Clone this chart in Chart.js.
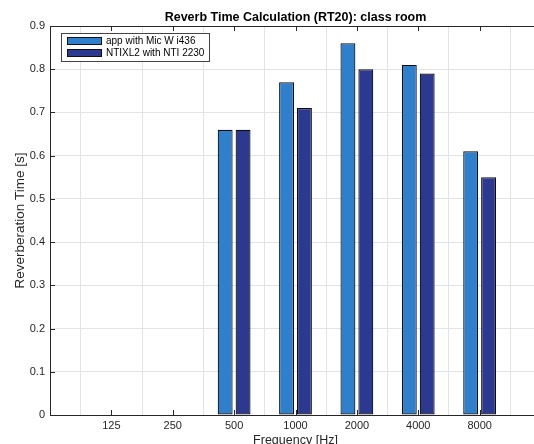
<!DOCTYPE html>
<html>
<head>
<meta charset="utf-8">
<script src="https://cdn.jsdelivr.net/npm/chart.js@4"></script>
<style>
  html, body { margin: 0; padding: 0; background: #fff; }
  #wrap { width: 534px; height: 444px; overflow: hidden; position: relative; }
  canvas { display: block; }
</style>
</head>
<body>
<div id="wrap"><canvas id="rt" width="545" height="452"></canvas></div>
<script>
  // octave bands (Hz)
  const freqs = ['125', '250', '500', '1000', '2000', '4000', '8000'];
  // RT20 in seconds
  const appMic = [0, 0, 0.66, 0.77, 0.86, 0.81, 0.61];
  const ntiXL2 = [0, 0, 0.66, 0.71, 0.80, 0.79, 0.55];
  const yTicks = [0, 0.1, 0.2, 0.3, 0.4, 0.5, 0.6, 0.7, 0.8, 0.9];

  const seriesNames = ['app with Mic W i436', 'NTIXL2 with NTI 2230'];
  const seriesColors = ['#2e7fcc', '#2b3990'];

  // empty slot at each end so the bands sit one step in from the edges
  const labels = [''].concat(freqs, ['']);
  const pad = arr => [null].concat(arr, [null]);

  const FONT = '"Liberation Sans", Arial, Helvetica, sans-serif';
  Chart.defaults.font.family = FONT;
  Chart.defaults.color = '#262626';

  // matlab style box: top edge line + inward tick marks, and the legend inside the axes
  const matlabBox = {
    id: 'matlabBox',
    afterDraw(chart) {
      const ctx = chart.ctx;
      const a = chart.chartArea;
      const xs = chart.scales.x, ys = chart.scales.y;
      ctx.save();
      ctx.strokeStyle = '#262626';
      ctx.lineWidth = 1;
      ctx.beginPath();
      ctx.moveTo(a.left, a.top + 0.5);
      ctx.lineTo(a.right, a.top + 0.5);
      for (let i = 1; i <= freqs.length; i++) {
        const px = Math.round(xs.getPixelForValue(i)) + 0.5;
        ctx.moveTo(px, a.bottom);
        ctx.lineTo(px, a.bottom - 5);
        ctx.moveTo(px, a.top);
        ctx.lineTo(px, a.top + 5);
      }
      yTicks.forEach(v => {
        const py = Math.round(ys.getPixelForValue(v)) + 0.5;
        ctx.moveTo(a.left, py);
        ctx.lineTo(a.left + 5, py);
      });
      ctx.stroke();

      // legend
      const lx = 61, ly = 33, lw = 148, lh = 28;
      ctx.fillStyle = '#fff';
      ctx.fillRect(lx, ly, lw, lh);
      ctx.strokeStyle = '#444';
      ctx.strokeRect(lx + 0.5, ly + 0.5, lw, lh);
      ctx.font = '10px ' + FONT;
      ctx.textBaseline = 'middle';
      chart.data.datasets.forEach((ds, i) => {
        const sy = ly + 4 + i * 12;
        ctx.fillStyle = ds.backgroundColor;
        ctx.fillRect(lx + 6, sy, 35, 8);
        ctx.strokeStyle = '#111';
        ctx.strokeRect(lx + 6.5, sy + 0.5, 34, 7);
        ctx.fillStyle = '#000';
        ctx.fillText(ds.label, lx + 45, sy + 4.5);
      });
      ctx.restore();
    }
  };

  const datasets = [appMic, ntiXL2].map((vals, i) => ({
    label: seriesNames[i],
    data: pad(vals),
    backgroundColor: seriesColors[i],
    borderColor: '#0d0d0d',
    borderWidth: 1.2,
    borderSkipped: false,
    categoryPercentage: 0.583,
    barPercentage: 0.833
  }));

  const config = {
    type: 'bar',
    data: { labels: labels, datasets: datasets },
    options: {
      responsive: false,
      animation: false,
      layout: { padding: { left: 0, right: 1, top: 0, bottom: 0 } },
      plugins: {
        legend: { display: false },
        tooltip: { enabled: false },
        title: {
          display: true,
          fullSize: false,
          text: 'Reverb Time Calculation (RT20): class room',
          color: '#000',
          font: { size: 12.5, weight: 'bold', lineHeight: 1.2 },
          padding: { top: 10.5, bottom: 0.5 }
        }
      },
      scales: {
        x: {
          offset: false,
          grid: { color: '#e3e3e3', drawTicks: false },
          border: { color: '#262626', width: 1 },
          ticks: { font: { size: 11 }, padding: 4, maxRotation: 0, autoSkip: false },
          title: {
            display: true,
            text: 'Frequency [Hz]',
            font: { size: 12.5 },
            padding: { top: 0, bottom: 4 }
          },
          afterFit(scale) { scale.height = 37; }
        },
        y: {
          min: 0,
          max: 0.9,
          grid: { color: '#e3e3e3', drawTicks: false },
          border: { color: '#262626', width: 1 },
          ticks: {
            stepSize: 0.1,
            font: { size: 11 },
            padding: 5,
            callback: v => +v.toFixed(1)
          },
          title: {
            display: true,
            text: 'Reverberation Time [s]',
            font: { size: 13.5 },
            padding: { top: 12, bottom: 0 }
          },
          afterFit(scale) { scale.width = 50; }
        }
      }
    },
    plugins: [matlabBox]
  };

  const rtChart = new Chart(document.getElementById('rt'), config);
</script>
</body>
</html>
